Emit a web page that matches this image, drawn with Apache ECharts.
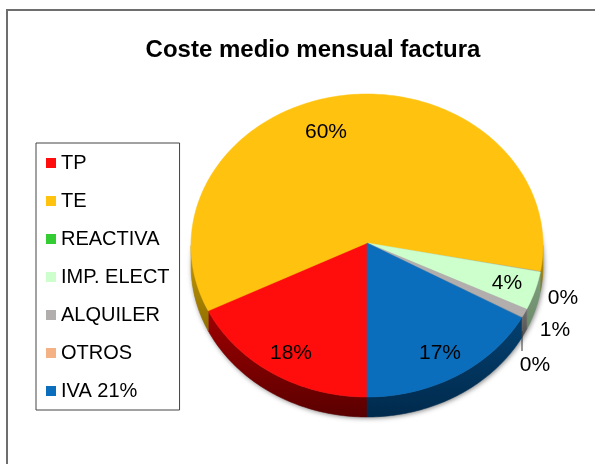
<!DOCTYPE html>
<html><head><meta charset="utf-8">
<style>html,body{margin:0;padding:0;background:#fff}#c{width:595px;height:464px}</style>
<script src="https://cdn.jsdelivr.net/npm/echarts@6/dist/echarts.min.js"></script>
</head><body><div id="c"></div>
<script>
const categories = ['TP','TE','REACTIVA','IMP. ELECT','ALQUILER','OTROS','IVA 21%'];
const values = [17.9,59.8,0.1,4.1,0.9,0.1,17.1];
const colors = ['#FF0D0D','#FFC20E','#33CC33','#CCFFCC','#B2AEAE','#F4B183','#0A6EBD'];
const sideTop = ['#A00000','#C89B00','#1E7A1E','#7F9F7F','#707070','#A07050','#04406F'];
const sideBottom = ['#5A0000','#8F6E00','#145014','#6A8A6A','#505050','#805030','#002A4D'];
const labelPos = [[291,353],[326,132],[563,298],[507,283],[555,330],[535,365],[440,353]];

const cx=367, apexY=243, cy=245.5, rx=176, ry=151.5, depth=20, startDeg=180;
const total = values.reduce((a,b)=>a+b,0);
const pt=(deg,dy)=>{const r=deg*Math.PI/180;return [cx+rx*Math.sin(r), cy-ry*Math.cos(r)+(dy||0)];};

function sliceItem(idx){
  let s=startDeg; for(let i=0;i<idx;i++) s+=values[i]/total*360;
  const e=s+values[idx]/total*360;
  const steps=Math.max(2,Math.ceil(e-s));
  const face=[[cx,apexY]];
  for(let k=0;k<=steps;k++) face.push(pt(s+(e-s)*k/steps));
  const arcs=[];
  for(const off of [0,360]){
    const a=Math.max(s,90+off), b=Math.min(e,270+off);
    if(b>a){
      const n=Math.max(2,Math.ceil(b-a)), up=[],dn=[];
      for(let k=0;k<=n;k++){const d=a+(b-a)*k/n; up.push(pt(d)); dn.unshift(pt(d,depth));}
      arcs.push(up.concat(dn));
    }
  }
  const thin=values[idx]<0.5;
  const grad={type:'linear',x:0,y:0,x2:0,y2:1,colorStops:[{offset:0,color:sideTop[idx]},{offset:1,color:sideBottom[idx]}]};
  const kids=arcs.map(p=>({type:'polygon',shape:{points:p},style:{fill:grad,stroke:thin?null:grad,lineWidth:0.5},silent:true}));
  if(!thin) kids.push({type:'polygon',shape:{points:face},style:{fill:colors[idx],stroke:colors[idx],lineWidth:0.5},silent:true});
  return {type:'group',children:kids};
}
function labelItem(){
  const kids=[{type:'line',shape:{x1:522,y1:331,x2:522,y2:351},style:{stroke:'#333',lineWidth:1},silent:true}];
  categories.forEach((c,i)=>{
    kids.push({type:'text',x:labelPos[i][0],y:labelPos[i][1],silent:true,
      style:{text:Math.round(values[i]/total*100)+'%',fill:'#000',font:'21px "Liberation Sans"',align:'center',verticalAlign:'middle'}});
  });
  return {type:'group',children:kids};
}
const series=[{
  type:'custom',name:'_shadow',coordinateSystem:'none',z:1,silent:true,data:[0],
  renderItem:()=>({type:'ellipse',shape:{cx:cx,cy:cy+depth,rx:rx,ry:ry},style:{fill:'#999',shadowBlur:5,shadowColor:'rgba(0,0,0,0.5)',shadowOffsetX:1,shadowOffsetY:1},silent:true})
}];
categories.forEach((c,i)=>series.push({
  type:'custom',name:c,coordinateSystem:'none',z:2,silent:true,data:[values[i]],
  itemStyle:{color:colors[i]},renderItem:()=>sliceItem(i)
}));
series.push({type:'custom',name:'_labels',coordinateSystem:'none',z:5,silent:true,data:[0],renderItem:labelItem});

const chart=echarts.init(document.getElementById('c'),null,{renderer:'canvas'});
chart.setOption({
  animation:false,backgroundColor:'#fff',
  title:{text:'Coste medio mensual factura',left:308,top:33,textAlign:'center',
    textStyle:{fontFamily:'Liberation Sans',fontSize:24,fontWeight:'bold',color:'#000'}},
  legend:{data:categories,orient:'vertical',left:36,top:143,padding:[10,10,9,10],itemGap:18,itemWidth:10,itemHeight:10,
    icon:'rect',selectedMode:false,borderColor:'#444',borderWidth:1,borderRadius:0,
    textStyle:{fontFamily:'Liberation Sans',fontSize:20,color:'#000',lineHeight:20}},
  graphic:[{type:'polyline',silent:true,z:0,shape:{points:[[7,464],[7,10],[595,10]]},style:{fill:null,stroke:'#6E6E6E',lineWidth:2}}],
  series:series
});
</script></body></html>
